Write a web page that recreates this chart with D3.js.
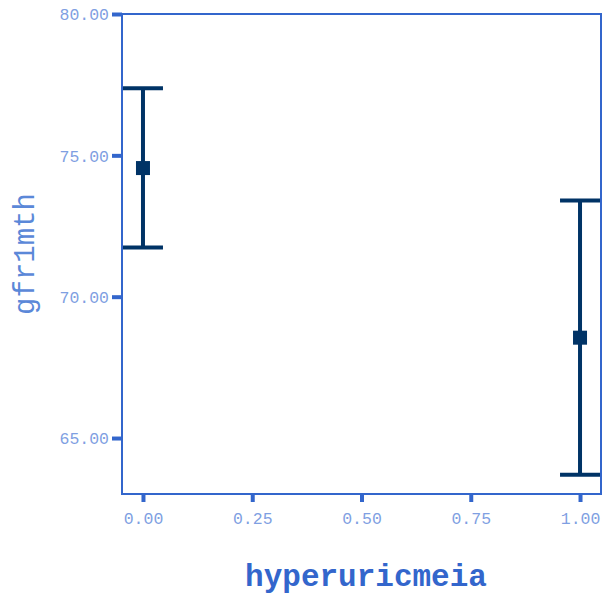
<!DOCTYPE html>
<html>
<head>
<meta charset="utf-8">
<script src="https://cdn.jsdelivr.net/npm/d3@7"></script>
<style>
  body { margin: 0; background: #fff; }
</style>
</head>
<body>
<div class="svg-container"></div>
<script>
//chart values
const groups = [0, 1];
const means = [74.55, 68.55];
const upper = [77.37, 73.40];
const lower = [71.74, 63.70];
const xTicks = [0, 0.25, 0.5, 0.75, 1];
const yTicks = [65, 70, 75, 80];

const width = 603;
const height = 596;
const margin = { top: 14, right: 2, bottom: 102, left: 122 };

const axisColor = '#3366cc';
const labelColor = '#7f9fe2';
const barColor = '#003366';
const font = '"Liberation Mono", "Courier New", monospace';

const svg = d3.select('.svg-container')
    .append('svg')
    .attr('width', width)
    .attr('height', height);

//scales
const xScale = d3.scaleLinear()
    .domain([-0.048, 1.048])
    .range([margin.left, width - margin.right]);

const yScale = d3.scaleLinear()
    .domain([63.02, 80])
    .range([height - margin.bottom, margin.top]);

//plot border
svg.append('rect')
    .attr('x', margin.left)
    .attr('y', margin.top)
    .attr('width', width - margin.right - margin.left)
    .attr('height', height - margin.bottom - margin.top)
    .attr('fill', 'none')
    .attr('stroke', axisColor)
    .attr('stroke-width', 2);

//x-axis
const xAxis = d3.axisBottom(xScale)
    .tickValues(xTicks)
    .tickFormat(d3.format('.2f'))
    .tickSize(8)
    .tickPadding(10);

svg.append('g')
    .attr('class', 'x-axis')
    .attr('transform', `translate(0, ${height - margin.bottom})`)
    .call(xAxis)
    .call(g => g.select('.domain').remove());

//y-axis
const yAxis = d3.axisLeft(yScale)
    .tickValues(yTicks)
    .tickFormat(d3.format('.2f'))
    .tickSize(10)
    .tickPadding(3);

svg.append('g')
    .attr('class', 'y-axis')
    .attr('transform', `translate(${margin.left}, 0)`)
    .call(yAxis)
    .call(g => g.select('.domain').remove());

svg.selectAll('.tick line')
    .attr('stroke', axisColor)
    .attr('stroke-width', 4);

svg.selectAll('.tick text')
    .attr('fill', labelColor)
    .attr('font-family', font)
    .attr('font-size', 16.5);

svg.selectAll('.y-axis .tick text').attr('dy', '0.36em');

//error bars
const capHalf = 20;
const bars = svg.append('g');

bars.selectAll('.err')
    .data(groups)
    .join('line')
    .attr('class', 'err')
    .attr('x1', (d) => xScale(d))
    .attr('x2', (d) => xScale(d))
    .attr('y1', (d, i) => yScale(upper[i]))
    .attr('y2', (d, i) => yScale(lower[i]))
    .attr('stroke', barColor)
    .attr('stroke-width', 4);

[upper, lower].forEach(arr => {
    bars.selectAll(null)
        .data(groups)
        .join('line')
        .attr('x1', (d) => xScale(d) - capHalf)
        .attr('x2', (d) => xScale(d) + capHalf)
        .attr('y1', (d, i) => yScale(arr[i]))
        .attr('y2', (d, i) => yScale(arr[i]))
        .attr('stroke', barColor)
        .attr('stroke-width', 4);
});

bars.selectAll('.mean')
    .data(groups)
    .join('rect')
    .attr('class', 'mean')
    .attr('x', (d) => xScale(d) - 7)
    .attr('y', (d, i) => yScale(means[i]) - 7)
    .attr('width', 14)
    .attr('height', 14)
    .attr('fill', barColor);

//axis titles
svg.append('text')
    .attr('x', 366)
    .attr('y', 586)
    .attr('text-anchor', 'middle')
    .attr('font-family', font)
    .attr('font-weight', 'bold')
    .attr('font-size', 31)
    .attr('fill', axisColor)
    .text('hyperuricmeia');

svg.append('text')
    .attr('transform', `translate(34, 254) rotate(-90)`)
    .attr('text-anchor', 'middle')
    .attr('font-family', font)
    .attr('font-size', 29)
    .attr('fill', '#5b88d8')
    .text('gfr1mth');
</script>
</body>
</html>
